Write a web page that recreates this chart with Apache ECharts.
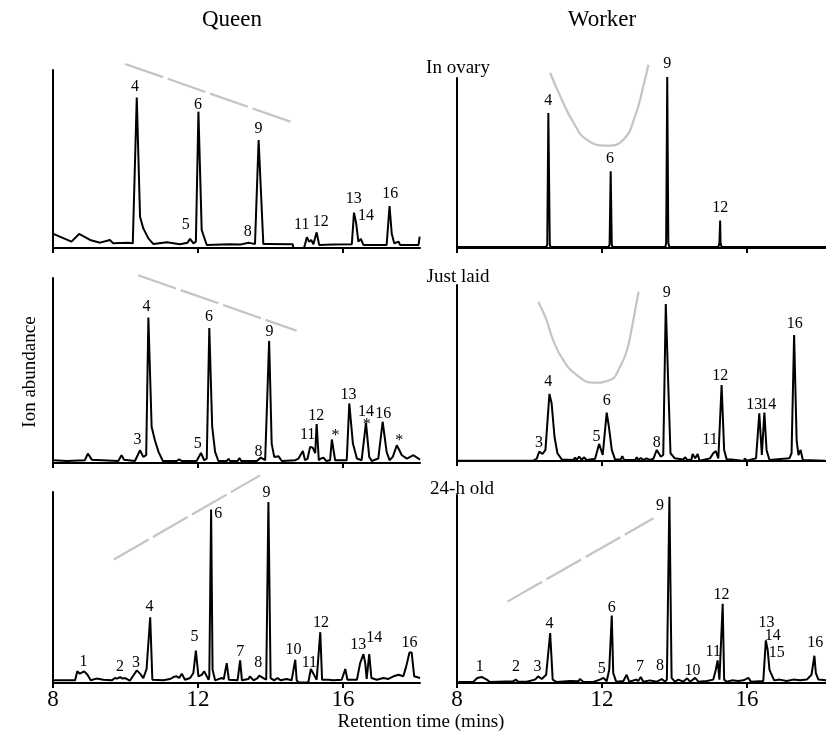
<!DOCTYPE html>
<html>
<head>
<meta charset="utf-8">
<script src="https://cdn.jsdelivr.net/npm/echarts@6/dist/echarts.min.js"></script>
<style>
  html, body { margin: 0; padding: 0; background: #fff; }
  #chart { width: 826px; height: 734px; }
</style>
</head>
<body>
<div id="chart"></div>
<script>
// retention time (min), ion abundance (% of panel height)
const queenOvary = [
  [8.01, 7.9], [8.51, 3.6], [8.72, 7.9], [9.02, 4.5], [9.30, 3.0], [9.57, 4.5], [9.66, 2.6],
  [10.08, 3.0], [10.20, 2.6], [10.31, 84.6], [10.40, 17.6], [10.49, 11.0], [10.63, 5.4], [10.77, 2.2],
  [11.14, 3.2], [11.50, 2.1], [11.71, 3.0], [11.78, 5.2], [11.87, 2.6], [11.94, 3.6], [12.01, 76.6],
  [12.10, 10.1], [12.24, 1.7], [12.88, 2.1], [13.16, 1.9], [13.39, 3.0], [13.48, 2.6], [13.57, 2.2],
  [13.67, 60.7], [13.80, 2.2], [13.94, 2.2], [14.61, 2.1], [14.63, 0], [14.92, 0], [14.95, 2.1],
  [15.00, 6.0], [15.06, 3.6], [15.12, 4.5], [15.18, 2.1], [15.27, 8.8], [15.34, 1.7], [15.73, 1.9],
  [16.24, 2.1], [16.30, 19.9], [16.36, 13.9], [16.42, 3.6], [16.49, 5.1], [16.56, 1.7], [17.20, 1.7],
  [17.28, 23.6], [17.34, 8.2], [17.41, 2.6], [17.53, 3.6], [17.57, 1.7], [18.08, 1.7], [18.11, 6.4]
];
const workerOvary = [
  [8.01, 0.6], [10.46, 0.6], [10.49, 2], [10.52, 79.4], [10.56, 2], [10.58, 0.6],
  [12.18, 0.6], [12.21, 2], [12.24, 45.1], [12.27, 2], [12.29, 0.6],
  [13.75, 0.6], [13.77, 2.9], [13.80, 100.6], [13.83, 2.9], [13.86, 0.6],
  [15.21, 0.6], [15.24, 2.9], [15.26, 16.1], [15.27, 2.9], [15.30, 0.6], [18.18, 0.6]
];
const queenLaid = [
  [8.01, 1.5], [8.38, 1.1], [8.88, 1.5], [8.96, 5.1], [9.07, 1.8], [9.80, 1.1], [9.89, 4.2], [9.96, 1.8],
  [10.26, 1.1], [10.40, 6.9], [10.49, 3.3], [10.57, 4.2], [10.63, 78.6], [10.72, 19.5], [10.81, 12.3],
  [10.91, 6.0], [11.03, 1.1], [11.41, 1.1], [11.48, 2.0], [11.55, 1.1], [11.96, 1.1], [12.08, 5.4],
  [12.17, 1.5], [12.24, 2.4], [12.31, 72.9], [12.39, 19.5], [12.47, 6.0], [12.56, 1.1], [12.79, 1.1],
  [12.84, 2.2], [12.88, 1.1], [13.09, 1.1], [13.14, 2.7], [13.19, 1.1], [13.62, 1.1], [13.73, 2.9],
  [13.85, 1.5], [13.96, 66.0], [14.03, 10.5], [14.10, 3.3], [14.22, 3.6], [14.31, 1.1], [14.68, 1.5],
  [14.77, 2.4], [14.81, 1.5], [14.89, 6.5], [14.95, 1.5], [15.02, 2.4], [15.09, 8.7], [15.16, 8.3],
  [15.23, 5.4], [15.27, 21.0], [15.33, 1.5], [15.39, 2.4], [15.46, 2.9], [15.53, 1.1], [15.64, 1.5],
  [15.69, 12.7], [15.78, 1.5], [16.10, 1.5], [16.17, 32.2], [16.21, 32.2], [16.27, 10.5], [16.31, 11.4],
  [16.38, 2.4], [16.51, 1.5], [16.63, 21.7], [16.72, 3.3], [16.79, 1.1], [16.97, 2.4], [17.09, 22.3],
  [17.20, 6.0], [17.28, 1.5], [17.37, 3.3], [17.48, 9.6], [17.62, 4.2], [17.76, 2.4], [17.94, 4.2],
  [18.12, 1.8]
];
const workerLaid = [
  [8.01, 0.2], [10.11, 0.2], [10.20, 1.3], [10.27, 5.3], [10.36, 4.0], [10.44, 6.3], [10.55, 38.1],
  [10.61, 32.8], [10.69, 13.8], [10.77, 4.4], [10.89, 0.9], [11.21, 0.6], [11.26, 1.9], [11.30, 0.6],
  [11.37, 2.5], [11.44, 0.6], [11.50, 2.1], [11.58, 0.6], [11.81, 1.3], [11.92, 9.7], [12.02, 3.4],
  [12.13, 27.5], [12.19, 19.5], [12.27, 6.3], [12.36, 0.9], [12.52, 0.9], [12.56, 2.8], [12.61, 0.6],
  [12.91, 0.6], [12.96, 2.1], [13.00, 0.6], [13.07, 1.7], [13.14, 0.6], [13.23, 1.5], [13.32, 0.6],
  [13.42, 1.3], [13.51, 6.3], [13.62, 2.5], [13.69, 3.4], [13.76, 89.2], [13.83, 42.2], [13.89, 4.4],
  [14.01, 1.5], [14.24, 0.9], [14.30, 2.1], [14.35, 0.6], [14.47, 0.9], [14.50, 4.0], [14.57, 1.5],
  [14.64, 4.0], [14.69, 0.2], [14.98, 1.5], [15.07, 4.4], [15.14, 5.7], [15.21, 1.5], [15.30, 43.2],
  [15.37, 6.3], [15.44, 0.9], [15.58, 0.9], [15.60, 0], [15.92, 0], [15.94, 1.5], [15.99, 0.2],
  [16.25, 1.5], [16.34, 27.1], [16.41, 3.4], [16.48, 27.5], [16.54, 6.3], [16.62, 0.6], [17.17, 1.5],
  [17.23, 4.4], [17.30, 71.6], [17.37, 11.9], [17.42, 3.4], [17.48, 6.3], [17.54, 0.6], [18.15, 0.2]
];
const queen24h = [
  [8.01, 1.4], [8.61, 1.4], [8.67, 6.1], [8.74, 4.9], [8.86, 6.1], [8.95, 4.3], [9.04, 1.4], [9.20, 2.3],
  [9.39, 1.7], [9.62, 1.4], [9.71, 2.6], [9.77, 2.3], [9.85, 3.1], [9.92, 2.3], [9.99, 2.6], [10.12, 1.2],
  [10.23, 4.3], [10.31, 6.6], [10.40, 4.9], [10.49, 2.6], [10.58, 7.3], [10.68, 34.4], [10.74, 1.7],
  [11.04, 1.4], [11.23, 2.1], [11.32, 3.1], [11.41, 3.5], [11.48, 2.6], [11.55, 4.9], [11.64, 1.7],
  [11.78, 2.6], [11.87, 5.2], [11.94, 17.0], [12.01, 3.5], [12.10, 4.3], [12.17, 6.1], [12.29, 1.7],
  [12.31, 3.5], [12.36, 90.8], [12.40, 7.0], [12.47, 1.4], [12.65, 2.6], [12.71, 2.1], [12.79, 10.4],
  [12.85, 1.7], [13.09, 1.4], [13.16, 11.8], [13.21, 1.4], [13.39, 2.1], [13.43, 3.5], [13.53, 1.4],
  [13.64, 2.6], [13.69, 3.8], [13.80, 2.6], [13.88, 1.7], [13.94, 94.8], [14.00, 2.6], [14.10, 1.4],
  [14.19, 2.6], [14.28, 1.4], [14.44, 2.1], [14.58, 1.4], [14.68, 12.2], [14.72, 1.4], [14.77, 0.3],
  [15.04, 0.3], [15.11, 7.3], [15.18, 4.9], [15.27, 1.7], [15.37, 26.6], [15.42, 1.7], [15.60, 1.7],
  [15.73, 1.4], [15.96, 1.7], [16.06, 7.3], [16.12, 1.7], [16.38, 1.7], [16.47, 10.4], [16.56, 15.1],
  [16.61, 10.4], [16.65, 2.1], [16.72, 15.1], [16.78, 2.6], [16.93, 1.7], [17.11, 2.6], [17.25, 2.1],
  [17.39, 3.5], [17.53, 4.3], [17.66, 3.5], [17.74, 8.7], [17.83, 16.0], [17.89, 16.0], [17.96, 3.5],
  [18.12, 2.6]
];
const worker24h = [
  [8.04, 0.5], [8.45, 0.7], [8.56, 2.7], [8.68, 3.2], [8.82, 1.8], [8.91, 0.5], [9.55, 0.9], [9.62, 1.8],
  [9.69, 0.7], [9.92, 0.7], [10.15, 1.8], [10.24, 3.5], [10.34, 2.1], [10.46, 4.4], [10.57, 26.6],
  [10.64, 1.8], [10.75, 0.5], [11.12, 1.1], [11.35, 0.9], [11.39, 2.1], [11.49, 0.5], [11.76, 0.5],
  [11.94, 1.8], [12.04, 2.7], [12.13, 0.9], [12.20, 7.1], [12.27, 35.9], [12.31, 5.3], [12.39, 0.7],
  [12.59, 1.1], [12.68, 4.4], [12.75, 0.7], [12.94, 1.8], [13.00, 1.1], [13.07, 3.2], [13.14, 0.7],
  [13.32, 1.4], [13.51, 0.7], [13.65, 2.1], [13.74, 0.7], [13.79, 1.8], [13.86, 99.1], [13.92, 2.7],
  [14.01, 0.7], [14.11, 1.8], [14.24, 0.7], [14.35, 2.5], [14.43, 0.7], [14.57, 2.7], [14.66, 0.7],
  [14.89, 1.1], [15.07, 1.8], [15.14, 7.1], [15.19, 12.0], [15.24, 1.8], [15.28, 2.7], [15.33, 42.1],
  [15.37, 1.8], [15.44, 0.7], [15.58, 1.4], [15.76, 1.1], [15.90, 1.4], [16.04, 2.7], [16.11, 0.7],
  [16.45, 1.1], [16.52, 22.7], [16.57, 17.7], [16.62, 7.1], [16.66, 5.3], [16.71, 6.2], [16.75, 1.4],
  [16.91, 1.8], [17.09, 1.1], [17.28, 1.8], [17.46, 1.4], [17.65, 1.8], [17.78, 4.4], [17.86, 14.5],
  [17.90, 5.3], [17.97, 1.8], [18.20, 1.4]
];

// peak labels: [x, y, text]
const queenOvaryLabels = [
  [10.26, 90.3, '4'], [12.0, 80.3, '6'], [13.67, 67.2, '9'], [11.66, 12.9, '5'], [13.37, 9.2, '8'],
  [14.86, 12.9, '11'], [15.38, 14.8, '12'], [16.29, 27.9, '13'], [16.63, 18, '14'], [17.3, 30.7, '16']
];
const workerOvaryLabels = [
  [10.52, 86.8, '4'], [12.22, 52.5, '6'], [13.80, 108.4, '9'], [15.26, 23.5, '12']
];
const queenLaidLabels = [
  [10.58, 84.6, '4'], [12.30, 78.9, '6'], [13.97, 71.1, '9'], [10.33, 12.7, '3'], [11.99, 10.5, '5'],
  [13.67, 6, '8'], [15.02, 15, '11'], [15.26, 25.5, '12'], [15.79, 14.6, '*'], [16.15, 36.7, '13'],
  [16.63, 27.7, '14'], [16.65, 20.7, '*'], [17.11, 26.8, '16'], [17.55, 12.2, '*']
];
const workerLaidLabels = [
  [13.79, 95.5, '9'], [17.32, 78.2, '16'], [10.52, 45, '4'], [15.26, 48.3, '12'], [12.13, 34.1, '6'],
  [16.2, 31.8, '13'], [16.59, 31.8, '14'], [10.26, 10.1, '3'], [11.85, 13.8, '5'], [13.51, 10.4, '8'],
  [14.98, 11.9, '11']
];
const queen24hLabels = [
  [8.84, 11.3, '1'], [9.85, 8.4, '2'], [10.29, 10.8, '3'], [10.66, 40, '4'], [11.90, 24, '5'],
  [12.56, 88.4, '6'], [13.16, 16.5, '7'], [13.66, 10.4, '8'], [13.89, 99.5, '9'], [14.63, 17.4, '10'],
  [15.07, 10.8, '11'], [15.39, 31.6, '12'], [16.42, 20, '13'], [16.86, 23.5, '14'], [17.83, 21.2, '16']
];
const worker24hLabels = [
  [13.60, 94.2, '9'], [15.30, 46.9, '12'], [12.27, 39.8, '6'], [10.55, 31.5, '4'], [16.54, 31.9, '13'],
  [16.71, 25.3, '14'], [16.82, 16.3, '15'], [15.07, 16.8, '11'], [17.88, 21.2, '16'], [8.63, 8.5, '1'],
  [9.63, 8.5, '2'], [10.22, 8.8, '3'], [11.99, 7.4, '5'], [13.05, 8.8, '7'], [13.60, 9.2, '8'],
  [14.50, 6.7, '10']
];

// grey guide strokes drawn over the peaks
const queenOvaryGuide = [[9.99, 103.4], [14.63, 70.4]];
const workerOvaryGuide = [
  [10.57, 103.1], [10.85, 89.2], [11.22, 73.5], [11.58, 63.7], [12.13, 60.2], [12.59, 63.7],
  [12.91, 77.4], [13.14, 95.1], [13.28, 107.8]
];
const queenLaidGuide = [[10.35, 101.5], [14.72, 71.5]];
const workerLaidGuide = [
  [10.24, 90.5], [10.47, 80.1], [10.65, 68.8], [10.93, 57.4], [11.30, 48.9], [11.76, 44.5],
  [12.22, 46.0], [12.50, 53.6], [12.69, 63.1], [12.83, 76.3], [12.95, 89.6], [13.01, 96.2]
];
const queen24hGuide = [[9.68, 64.7], [13.71, 108.7]];
const worker24hGuide = [[9.39, 43.3], [13.42, 87.6]];

const xTicks = [8, 12, 16];

const FONT = '"Liberation Serif", "DejaVu Serif", serif';

const panels = [
  { grid: { left: 53, top: 70, width: 367, height: 178 }, max: 18.12, trace: queenOvary, labels: queenOvaryLabels, guide: queenOvaryGuide, smooth: false },
  { grid: { left: 457, top: 78, width: 369, height: 170 }, max: 18.18, trace: workerOvary, labels: workerOvaryLabels, guide: workerOvaryGuide, smooth: true },
  { grid: { left: 53, top: 278, width: 367, height: 185 }, max: 18.12, trace: queenLaid, labels: queenLaidLabels, guide: queenLaidGuide, smooth: false },
  { grid: { left: 457, top: 285, width: 369, height: 176 }, max: 18.18, trace: workerLaid, labels: workerLaidLabels, guide: workerLaidGuide, smooth: true },
  { grid: { left: 53, top: 492, width: 367, height: 191 }, max: 18.12, trace: queen24h, labels: queen24hLabels, guide: queen24hGuide, smooth: false, bottom: true },
  { grid: { left: 457, top: 495, width: 369, height: 188 }, max: 18.18, trace: worker24h, labels: worker24hLabels, guide: worker24hGuide, smooth: false, bottom: true }
];

const chart = echarts.init(document.getElementById('chart'));

const grids = [], xAxes = [], yAxes = [], series = [];
panels.forEach((p, i) => {
  grids.push(Object.assign({ containLabel: false }, p.grid));
  xAxes.push({
    type: 'value', gridIndex: i, min: 8, max: p.max,
    axisLine: { lineStyle: { color: '#000', width: 2 } },
    axisTick: { customValues: xTicks, length: 5, lineStyle: { color: '#000', width: 2 } },
    axisLabel: {
      show: !!p.bottom, customValues: xTicks, color: '#000', fontFamily: FONT, fontSize: 23, margin: 5
    },
    splitLine: { show: false }
  });
  yAxes.push({
    type: 'value', gridIndex: i, min: 0, max: 100,
    axisLine: { show: true, lineStyle: { color: '#000', width: 2 } },
    axisTick: { show: false }, axisLabel: { show: false }, splitLine: { show: false }
  });
  series.push({
    type: 'line', xAxisIndex: i, yAxisIndex: i, data: p.guide, showSymbol: false,
    smooth: p.smooth, clip: false, silent: true, z: 1,
    lineStyle: { color: '#c4c4c4', width: 2.2, type: p.smooth ? 'solid' : [40, 5] }
  });
  series.push({
    type: 'line', xAxisIndex: i, yAxisIndex: i, data: p.trace, showSymbol: false,
    clip: false, silent: true, z: 3,
    lineStyle: { color: '#000', width: 2 }
  });
  series.push({
    type: 'scatter', xAxisIndex: i, yAxisIndex: i, data: p.labels, symbolSize: 0,
    clip: false, silent: true, z: 4,
    itemStyle: { color: '#000', opacity: 1 },
    label: {
      show: true, position: 'inside', formatter: (d) => d.value[2],
      color: '#000', fontFamily: FONT, fontSize: 16
    }
  });
});

const txt = (x, y, text, size, extra) => Object.assign({
  type: 'text', x: x, y: y, silent: true,
  style: { text: text, fill: '#000', font: size + 'px ' + FONT, textAlign: 'center', textVerticalAlign: 'middle' }
}, extra || {});

chart.setOption({
  animation: false,
  backgroundColor: '#fff',
  grid: grids,
  xAxis: xAxes,
  yAxis: yAxes,
  series: series,
  graphic: [
    txt(232, 20, 'Queen', 23),
    txt(602, 20, 'Worker', 23),
    txt(458, 68, 'In ovary', 19),
    txt(458, 277, 'Just laid', 19),
    txt(462, 489, '24-h old', 19),
    txt(421, 722, 'Retention time (mins)', 19),
    txt(30, 372, 'Ion abundance', 19, { rotation: Math.PI / 2 })
  ]
});
</script>
</body>
</html>
